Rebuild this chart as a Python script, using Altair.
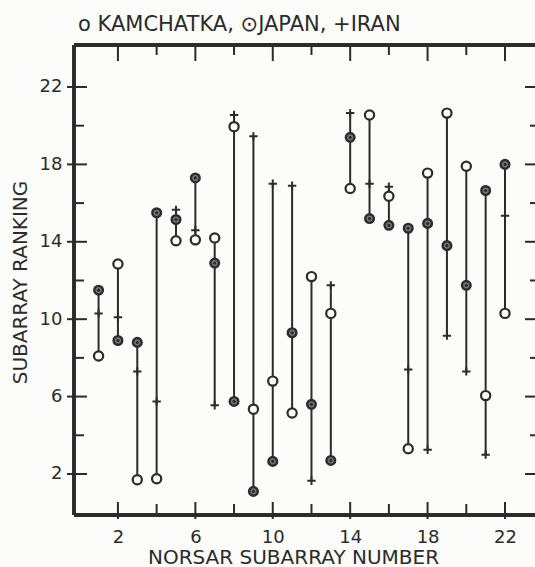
import altair as alt
import pandas as pd

subarray = list(range(1, 23))
kamchatka = [8.1, 12.85, 1.7, 1.75, 14.05, 14.1, 14.2, 19.95, 5.35, 6.8, 5.15,
             12.2, 10.3, 16.75, 20.55, 16.35, 3.3, 17.55, 20.65, 17.9, 6.05, 10.3]
japan = [11.5, 8.9, 8.8, 15.5, 15.15, 17.3, 12.9, 5.75, 1.1, 2.65, 9.3,
         5.6, 2.7, 19.4, 15.2, 14.85, 14.7, 14.95, 13.8, 11.75, 16.65, 18.0]
iran = [10.3, 10.1, 7.3, 5.75, 15.65, 14.6, 5.55, 20.55, 19.45, 17.0, 16.9,
        1.65, 11.75, 20.65, 17.0, 16.85, 7.4, 3.25, 9.15, 7.3, 3.0, 15.35]

tick_values = [2, 4, 6, 8, 10, 12, 14, 16, 18, 20, 22]
label_values = [2, 6, 10, 14, 18, 22]
legend_text = ["o KAMCHATKA, \u2299JAPAN, +IRAN"]

W, H = 461, 470
INK = "#2b2b2b"
BG = "#fcfcfa"
FONT = "DejaVu Sans"

df = pd.DataFrame({"s": subarray, "k": kamchatka, "j": japan, "i": iran})
df["lo"] = df[["k", "j", "i"]].min(axis=1)
df["hi"] = df[["k", "j", "i"]].max(axis=1)

major = pd.DataFrame({"v": label_values})
minor = pd.DataFrame({"v": [t for t in tick_values if t not in label_values]})

xs = alt.Scale(domain=[-0.27, 23.55], nice=False, zero=False)
ys = alt.Scale(domain=[-0.12, 24.17], nice=False, zero=False)

xaxis = alt.Axis(values=label_values, ticks=False, tickSize=0, domain=False, grid=False,
                 labelFont=FONT, labelFontSize=18, labelColor=INK, labelPadding=13,
                 title="NORSAR SUBARRAY NUMBER", titleFont=FONT, titleFontSize=20,
                 titleFontWeight="normal", titleColor=INK, titleX=219, titleY=48,
                 titleBaseline="alphabetic", titleAnchor="start", titleAlign="center")
yaxis = alt.Axis(values=label_values, ticks=False, tickSize=0, domain=False, grid=False,
                 labelFont=FONT, labelFontSize=18, labelColor=INK, labelPadding=12,
                 title="SUBARRAY RANKING", titleFont=FONT, titleFontSize=20,
                 titleFontWeight="normal", titleColor=INK, titleX=-54, titleY=237,
                 titleAngle=270, titleBaseline="middle", titleAlign="center",
                 titleAnchor="start")

base = alt.Chart(df)

lines = base.mark_rule(color=INK, strokeWidth=2).encode(
    x=alt.X("s:Q", scale=xs, axis=xaxis),
    y=alt.Y("lo:Q", scale=ys, axis=yaxis),
    y2="hi:Q",
)

plus_path = "M-1,0L1,0M0,-1L0,1"
iran_pts = base.mark_point(shape=plus_path, size=70, stroke=INK, strokeWidth=2,
                           opacity=1).encode(x=alt.X("s:Q", scale=xs), y=alt.Y("i:Q", scale=ys))
kam_pts = base.mark_point(shape="circle", size=85, stroke=INK, strokeWidth=2.2,
                          fill=BG, filled=False, opacity=1, fillOpacity=1).encode(
    x=alt.X("s:Q", scale=xs), y=alt.Y("k:Q", scale=ys))
jap_pts = base.mark_point(shape="circle", size=75, stroke=INK, strokeWidth=2.4,
                          fill="#777777", fillOpacity=1, opacity=1).encode(
    x=alt.X("s:Q", scale=xs), y=alt.Y("j:Q", scale=ys))
jap_dot = base.mark_point(shape="circle", size=10, filled=True, color=INK,
                          opacity=1).encode(x=alt.X("s:Q", scale=xs), y=alt.Y("j:Q", scale=ys))

frame_style = dict(color=INK, strokeWidth=2.8)
left = alt.Chart(major).mark_rule(**frame_style).encode(
    x=alt.value(0), y=alt.value(0), y2=alt.value(H))
top = alt.Chart(major).mark_rule(**frame_style).encode(
    x=alt.value(0), x2=alt.value(W + 5), y=alt.value(0))
bottom = alt.Chart(major).mark_rule(**frame_style).encode(
    x=alt.value(0), x2=alt.value(W + 5), y=alt.value(H))

tk = dict(color=INK, strokeWidth=2)
top_major = alt.Chart(major).mark_rule(**tk).encode(
    x=alt.X("v:Q", scale=xs), y=alt.value(0), y2=alt.value(16))
top_minor = alt.Chart(minor).mark_rule(**tk).encode(
    x=alt.X("v:Q", scale=xs), y=alt.value(0), y2=alt.value(10))
bot_major = alt.Chart(major).mark_rule(**tk).encode(
    x=alt.X("v:Q", scale=xs), y=alt.value(H + 4), y2=alt.value(H - 13))
bot_minor = alt.Chart(minor).mark_rule(**tk).encode(
    x=alt.X("v:Q", scale=xs), y=alt.value(H), y2=alt.value(H - 11))
left_major = alt.Chart(major).mark_rule(**tk).encode(
    y=alt.Y("v:Q", scale=ys), x=alt.value(-7), x2=alt.value(13))
left_minor = alt.Chart(minor).mark_rule(**tk).encode(
    y=alt.Y("v:Q", scale=ys), x=alt.value(0), x2=alt.value(10))
right_major = alt.Chart(major).mark_rule(**tk).encode(
    y=alt.Y("v:Q", scale=ys), x=alt.value(W - 10), x2=alt.value(W + 2))
right_minor = alt.Chart(minor).mark_rule(**tk).encode(
    y=alt.Y("v:Q", scale=ys), x=alt.value(W - 5), x2=alt.value(W + 2))

legend = alt.Chart(pd.DataFrame({"t": legend_text})).mark_text(
    font=FONT, fontSize=21, color=INK, align="left", baseline="alphabetic"
).encode(text="t:N", x=alt.value(4), y=alt.value(-14))

chart = alt.layer(
    lines, top_major, top_minor, bot_major, bot_minor, left_major, left_minor,
    right_major, right_minor, left, top, bottom,
    iran_pts, kam_pts, jap_pts, jap_dot, legend,
).properties(
    width=W, height=H,
    padding={"left": 74, "top": 45, "right": 0, "bottom": 52},
    autosize=alt.AutoSizeParams(type="none"),
    background=BG,
).configure_view(stroke=None)

chart.save("out.html", embed_options={"renderer": "svg", "actions": False})
